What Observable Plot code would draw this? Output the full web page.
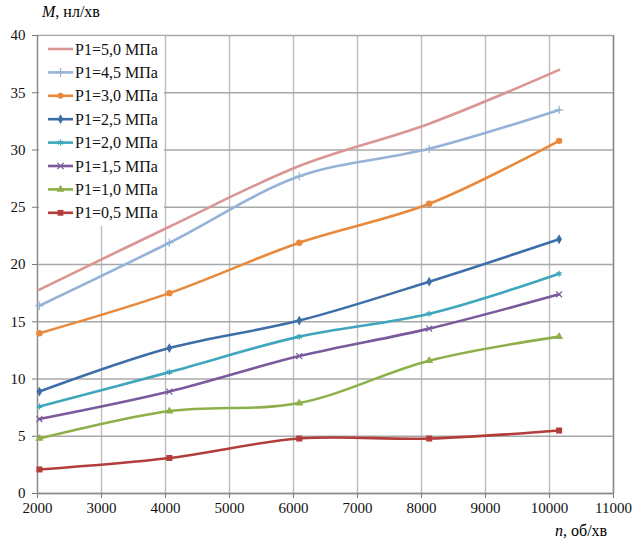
<!DOCTYPE html>
<html>
<head>
<meta charset="utf-8">
<script src="https://cdn.jsdelivr.net/npm/d3@7"></script>
<script src="https://cdn.jsdelivr.net/npm/@observablehq/plot@0.6"></script>
<style>
  html, body { margin: 0; padding: 0; background: #fff; }
  #wrap { position: relative; width: 635px; height: 544px; font-family: "Liberation Serif", "Times New Roman", Tinos, "DejaVu Serif", serif; }
  #ylab { position: absolute; left: 42px; top: 3px; font-size: 16px; }
  #xlab { position: absolute; left: 555px; top: 522px; font-size: 16px; }
  #legend { position: absolute; left: 39px; top: 36px; }
  svg text { font-family: "Liberation Serif", "Times New Roman", Tinos, "DejaVu Serif", serif; }
</style>
</head>
<body>
<div id="wrap">
  <div id="chart"></div>
  <div id="ylab"><i>M</i>, нл/хв</div>
  <div id="xlab"><i>n</i>, об/хв</div>
  <div id="legend"></div>
</div>
<script>
const xValues = [2030, 4060, 6090, 8120, 10150];
const seriesNames = ["P1=5,0 МПа","P1=4,5 МПа","P1=3,0 МПа","P1=2,5 МПа","P1=2,0 МПа","P1=1,5 МПа","P1=1,0 МПа","P1=0,5 МПа"];
const p50 = [17.8, 23.3, 28.6, 32.3, 37.0];
const p45 = [16.4, 21.9, 27.7, 30.1, 33.5];
const p30 = [14.0, 17.5, 21.9, 25.3, 30.8];
const p25 = [8.9, 12.7, 15.1, 18.5, 22.2];
const p20 = [7.6, 10.6, 13.7, 15.7, 19.2];
const p15 = [6.5, 8.9, 12.0, 14.4, 17.4];
const p10 = [4.8, 7.2, 7.9, 11.6, 13.7];
const p05 = [2.1, 3.1, 4.8, 4.8, 5.5];
const seriesValues = [p50, p45, p30, p25, p20, p15, p10, p05];
const colors = ["#D99694", "#95B3D7", "#E8893C", "#3E6EA8", "#3FA6BD", "#7A5A9C", "#8DB04A", "#B33D3A"];
const symbols = [null, "plus", "circle", "diamond", "asterisk", "times", "triangle", "square"];
const filledSym = {circle: true, diamond: true, triangle: true, square: true};
const symSize = {plus: 2.8, circle: 3.2, diamond: 3.0, asterisk: 2.8, times: 2.8, triangle: 3.0, square: 3.4};
const xTicks = d3.range(2000, 11001, 1000);
const yTicks = d3.range(0, 41, 5);
const FONT = "Liberation Serif, Times New Roman, Tinos, DejaVu Serif, serif";

const data = [];
seriesNames.forEach((s, i) => xValues.forEach((x, j) => data.push({series: s, i, x, y: seriesValues[i][j]})));

const marks = [
  Plot.gridX(xTicks, {stroke: "#bdbdbd", strokeOpacity: 1, strokeWidth: 1.4}),
  Plot.gridY(yTicks, {stroke: "#a8a8a8", strokeOpacity: 1, strokeWidth: 1.3}),
  Plot.ruleX([11000], {stroke: "#8a8a8a", strokeWidth: 1.5}),
  Plot.axisX({ticks: xTicks, tickSize: 5, tickPadding: 4, tickFormat: d => String(d), label: null, stroke: "#777", fontSize: 15, color: "#111"}),
  Plot.axisY({ticks: yTicks, tickSize: 5, tickPadding: 7, tickFormat: d => String(d), label: null, stroke: "#777", fontSize: 15, color: "#111"}),
  Plot.ruleX([2000], {stroke: "#8a8a8a", strokeWidth: 1.3}),
  Plot.ruleY([0], {stroke: "#8a8a8a", strokeWidth: 1.3})
];
for (let i = seriesNames.length - 1; i >= 0; i--) {
  const d = data.filter(r => r.i === i);
  marks.push(Plot.line(d, {x: "x", y: "y", stroke: colors[i], strokeWidth: 2.6, curve: "catmull-rom"}));
  const sym = symbols[i];
  if (sym) {
    if (filledSym[sym]) marks.push(Plot.dot(d, {x: "x", y: "y", symbol: () => sym, r: symSize[sym], fill: colors[i], stroke: "none"}));
    else marks.push(Plot.dot(d, {x: "x", y: "y", symbol: () => sym, r: symSize[sym], stroke: colors[i], strokeWidth: 1.2, fill: "none"}));
  }
}

const chart = Plot.plot({
  width: 635, height: 544,
  marginLeft: 37, marginRight: 22, marginTop: 35, marginBottom: 51,
  style: {fontFamily: FONT, fontSize: "15px", background: "white", overflow: "visible"},
  x: {domain: [2000, 11000]},
  y: {domain: [0, 40]},
  symbol: {type: "identity"},
  marks
});
document.getElementById("chart").appendChild(chart);

// legend
const lg = d3.select("#legend").append("svg").attr("width", 125).attr("height", 190)
  .style("background", "white").style("display", "block");
const symGen = {
  plus: d3.symbolPlus, circle: d3.symbolCircle, diamond: d3.symbolDiamond, asterisk: d3.symbolAsterisk,
  times: d3.symbolTimes, triangle: d3.symbolTriangle, square: d3.symbolSquare
};
seriesNames.forEach((s, i) => {
  const cy = 13 + i * 23.4;
  const g = lg.append("g").attr("transform", `translate(0,${cy})`);
  g.append("line").attr("x1", 9).attr("x2", 34).attr("y1", 0).attr("y2", 0)
    .attr("stroke", colors[i]).attr("stroke-width", 2.6);
  const sym = symbols[i];
  if (sym) {
    const p = d3.symbol(symGen[sym], sym === "square" ? 34 : 28)();
    const path = g.append("path").attr("d", p).attr("transform", "translate(21.5,0)");
    if (filledSym[sym]) path.attr("fill", colors[i]);
    else path.attr("fill", "none").attr("stroke", colors[i]).attr("stroke-width", 1.2);
  }
  g.append("text").attr("x", 36).attr("y", 0).attr("dy", "0.35em")
    .attr("font-family", FONT).attr("font-size", 16).attr("fill", "#111").text(s);
});
</script>
</body>
</html>
